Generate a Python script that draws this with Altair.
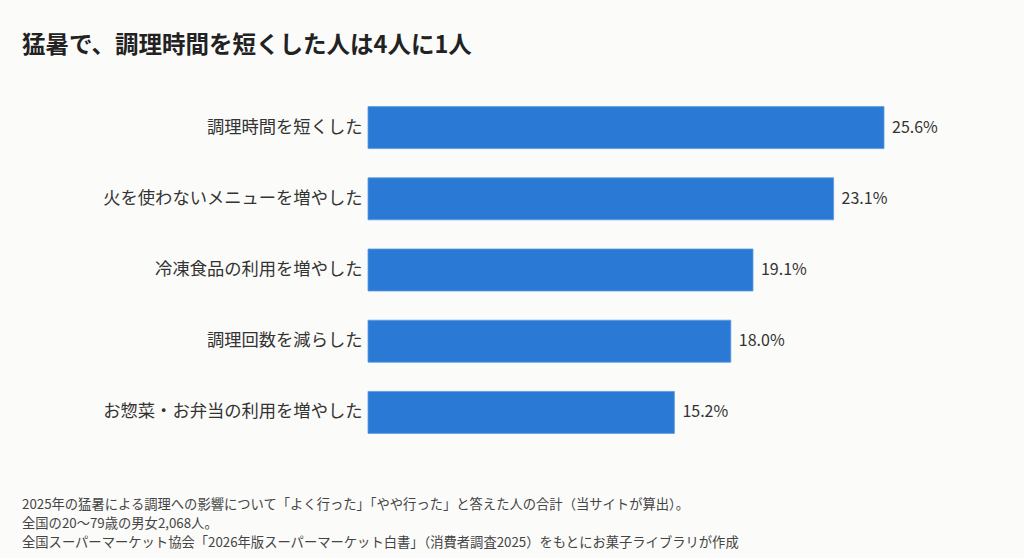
import altair as alt
import pandas as pd

categories = ["調理時間を短くした", "火を使わないメニューを増やした", "冷凍食品の利用を増やした",
              "調理回数を減らした", "お惣菜・お弁当の利用を増やした"]
values = [25.6, 23.1, 19.1, 18.0, 15.2]
labels = ["25.6%", "23.1%", "19.1%", "18.0%", "15.2%"]

title_text = "猛暑で、調理時間を短くした人は4人に1人"
notes = [
    "2025年の猛暑による調理への影響について「よく行った」「やや行った」と答えた人の合計（当サイトが算出）。",
    "全国の20〜79歳の男女2,068人。",
    "全国スーパーマーケット協会「2026年版スーパーマーケット白書」（消費者調査2025）をもとにお菓子ライブラリが作成",
]

df = pd.DataFrame({"cat": categories, "val": values, "lab": labels})
FONT = "Noto Sans CJK JP"

y = alt.Y("cat:N", sort=categories, title=None,
          scale=alt.Scale(paddingInner=0.41, paddingOuter=0.205),
          axis=alt.Axis(domain=False, ticks=False, labelFontSize=17.3, labelColor="#333333",
                        labelFont=FONT, labelPadding=6, labelLimit=400))
x = alt.X("val:Q", scale=alt.Scale(domain=[0, 25.6], nice=False), axis=None)

base = alt.Chart(df)
bars = base.mark_bar(color="#2a7ad5", stroke="#5b9be0", strokeWidth=0.8).encode(x=x, y=y)
text = base.mark_text(align="left", dx=8, fontSize=16, color="#333333", font=FONT).encode(
    x=x, y=y, text="lab:N")

layers = [bars, text]

title = alt.Chart(pd.DataFrame({"t": [title_text]})).mark_text(
    align="left", baseline="alphabetic", fontSize=23.5, fontWeight="bold", color="#222222", font=FONT
).encode(x=alt.value(-346), y=alt.value(-39), text="t:N")
layers.append(title)

for i, note in enumerate(notes):
    layers.append(
        alt.Chart(pd.DataFrame({"t": [note]})).mark_text(
            align="left", baseline="alphabetic", fontSize=13.3, color="#444444", font=FONT
        ).encode(x=alt.value(-346), y=alt.value(417 + 19 * i), text="t:N")
    )

chart = alt.layer(*layers).properties(
    width=516, height=356,
    padding={"left": 368, "top": 92, "right": 140, "bottom": 110},
    autosize=alt.AutoSizeParams(type="none"),
    background="#fbfbf9",
).configure_view(stroke=None)

chart.save("out.html", embed_options={"renderer": "svg", "actions": False})
